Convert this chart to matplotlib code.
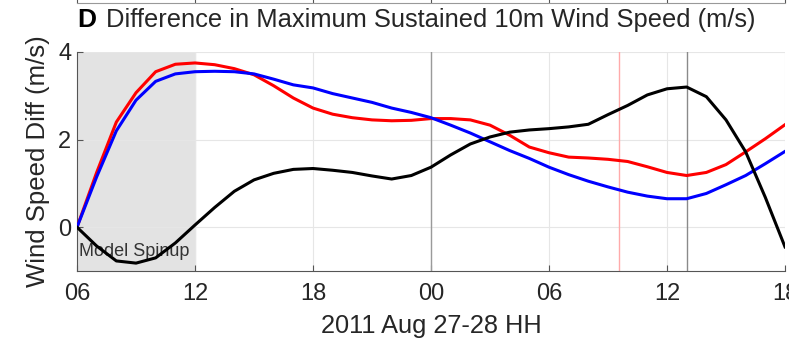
import numpy as np
import matplotlib
matplotlib.use("Agg")
import matplotlib.pyplot as plt

plt.rcParams['font.family'] = ['Liberation Sans', 'DejaVu Sans']

# hours since 2011-08-27 06 UTC
hours = np.arange(0, 37)

red = [0, 1.25, 2.4, 3.07, 3.55, 3.72, 3.75, 3.71, 3.62, 3.48, 3.23, 2.95, 2.72,
       2.58, 2.5, 2.45, 2.43, 2.44, 2.48, 2.48, 2.45, 2.33, 2.1, 1.83, 1.7,
       1.6, 1.58, 1.55, 1.5, 1.38, 1.25, 1.18, 1.25, 1.43, 1.72, 2.02, 2.34]
blue = [0, 1.15, 2.2, 2.9, 3.33, 3.5, 3.55, 3.56, 3.55, 3.5, 3.38, 3.25, 3.18,
        3.05, 2.95, 2.85, 2.72, 2.62, 2.5, 2.33, 2.15, 1.95, 1.75, 1.57, 1.37,
        1.2, 1.05, 0.92, 0.8, 0.71, 0.65, 0.65, 0.77, 0.97, 1.18, 1.45, 1.73]
black = [0, -0.43, -0.77, -0.82, -0.7, -0.36, 0.05, 0.45, 0.82, 1.08, 1.23, 1.32, 1.34,
         1.3, 1.25, 1.17, 1.1, 1.18, 1.37, 1.65, 1.9, 2.06, 2.17, 2.22, 2.25,
         2.29, 2.35, 2.57, 2.78, 3.02, 3.16, 3.2, 2.98, 2.45, 1.72, 0.68, -0.45]

xticks = [0, 6, 12, 18, 24, 30, 36]
xticklabels = ['06', '12', '18', '00', '06', '12', '18']
yticks = [0, 2, 4]
spinup_end = 6
day_line = 18
red_marker = 27.55
gray_marker = 31

txt = '#262626'
W, H = 789, 338
fig = plt.figure(figsize=(W / 100, H / 100), dpi=100)
ax = fig.add_axes([77 / W, 1 - 271 / H, (785 - 77) / W, (271 - 52) / H])

ax.axvspan(0, spinup_end, color='#e3e3e3', zorder=0)
ax.axvline(day_line, color='#9a9a9a', lw=1, zorder=1)
ax.axvline(red_marker, color='#ffaaaa', lw=1, zorder=1)
ax.axvline(gray_marker, color='#8a8a8a', lw=1, zorder=1)

ax.plot(hours, red, color='#ff0000', lw=2.2, zorder=3)
ax.plot(hours, blue, color='#0000ff', lw=2.2, zorder=3)
ax.plot(hours, black, color='#000000', lw=2.2, zorder=4)

ax.set_xlim(0, 36)
ax.set_ylim(-1, 4)
ax.set_xticks(xticks)
ax.set_xticklabels(xticklabels)
ax.set_yticks(yticks)
ax.grid(True, color='#e6e6e6', lw=0.8, zorder=0)
ax.set_axisbelow(True)
for s in ['top', 'right']:
    ax.spines[s].set_visible(False)
for s in ['left', 'bottom']:
    ax.spines[s].set_color('#555555')
    ax.spines[s].set_linewidth(0.8)
ax.tick_params(direction='in', length=4, color='#555555', labelsize=17,
               labelcolor=txt)
ax.tick_params(axis='x', pad=9)
ax.tick_params(axis='y', pad=4)

ax.text(0.1, -0.55, 'Model Spinup', fontsize=13, color='#333333', va='center')

ax.set_xlabel('2011 Aug 27-28 HH', fontsize=18.3, color=txt, labelpad=6)
ax.set_ylabel('Wind Speed Diff (m/s)', fontsize=18.5, color=txt, labelpad=6)

fig.text(77 / W, 1 - 20 / H, 'D', fontsize=19, fontweight='bold', color='#000000', va='center')
fig.text(106 / W, 1 - 20 / H, 'Difference in Maximum Sustained 10m Wind Speed (m/s)',
         fontsize=18.4, color=txt, va='center')

# bottom edge of the panel above
top = fig.add_axes([77 / W, 1 - 3 / H, (785 - 77) / W, 3 / H])
top.set_xlim(0, 36)
top.set_xticks(xticks)
top.set_yticks([])
top.tick_params(axis='x', direction='in', length=3, labelbottom=False, color='#555555')
for s in ['top', 'right', 'left']:
    top.spines[s].set_visible(False)
top.spines['bottom'].set_color('#999999')
top.patch.set_alpha(0)

fig.savefig('out.png', dpi=100)
